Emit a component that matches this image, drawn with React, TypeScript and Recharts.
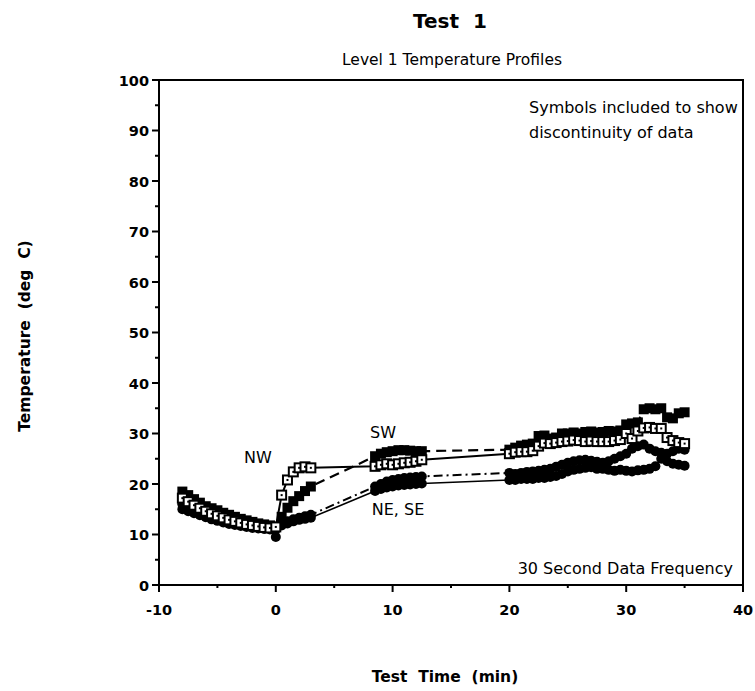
import React from 'react';
import { LineChart, Line, XAxis, YAxis, ReferenceArea } from 'recharts';

// 30 s sampling, three recording windows
const times = [
  -8, -7.5, -7, -6.5, -6, -5.5, -5, -4.5, -4, -3.5, -3, -2.5, -2, -1.5, -1, -0.5, 0, 0.5, 1, 1.5, 2, 2.5, 3,
  8.5, 9, 9.5, 10, 10.5, 11, 11.5, 12, 12.5,
  20, 20.5, 21, 21.5, 22, 22.5, 23, 23.5, 24, 24.5, 25, 25.5, 26, 26.5, 27, 27.5, 28, 28.5, 29, 29.5,
  30, 30.5, 31, 31.5, 32, 32.5, 33, 33.5, 34, 34.5, 35,
];

const nwTemp = [
  17.2, 16.5, 15.8, 15.2, 14.6, 14.1, 13.7, 13.3, 12.9, 12.6, 12.3, 12.0, 11.8, 11.6, 11.4, 11.3, 11.5, 17.8, 20.8, 22.4, 23.2, 23.4, 23.2,
  23.5, 23.8, 24.0, 23.8, 24.0, 24.2, 24.3, 24.5, 24.8,
  26.0, 26.3, 26.4, 26.4, 26.6, 27.5, 28.1, 28.0, 28.2, 28.4, 28.5, 28.7, 28.6, 28.4, 28.5, 28.4, 28.4, 28.4, 28.6, 28.8,
  30.0, 29.0, 30.5, 31.1, 31.2, 31.0, 31.0, 29.2, 28.6, 28.2, 28.0,
];

const swTemp = [
  18.5, 17.8, 17.0, 16.3, 15.6, 15.2, 14.8, 14.3, 13.9, 13.5, 13.1, 12.8, 12.5, 12.2, 12.0, 11.8, 11.5, 13.5, 15.3, 16.6, 17.6, 18.6, 19.5,
  25.5, 26.0, 26.3, 26.5, 26.7, 26.7, 26.6, 26.5, 26.5,
  26.8, 27.2, 27.6, 27.8, 28.0, 29.5, 29.6, 29.0, 29.2, 30.0, 30.0, 30.2, 30.0, 30.3, 30.4, 30.2, 30.3, 30.5, 30.4, 30.6,
  31.8, 32.0, 32.2, 34.8, 35.0, 34.8, 35.0, 33.2, 33.0, 34.0, 34.2,
];

const neTemp = [
  16.0, 15.5, 15.0, 14.5, 14.1, 13.7, 13.3, 13.0, 12.7, 12.4, 12.1, 11.9, 11.7, 11.5, 11.3, 11.2, 11.0, 12.0, 12.6, 13.0, 13.3, 13.6, 13.9,
  19.5, 20.0, 20.5, 20.8, 21.0, 21.2, 21.3, 21.4, 21.5,
  22.2, 22.0, 22.2, 22.4, 22.5, 22.6, 22.8, 23.0, 23.4, 23.8, 24.2, 24.5, 24.7, 24.8, 24.6, 24.4, 24.2, 24.5, 25.0, 25.5,
  26.0, 27.0, 27.5, 27.8, 27.0, 26.5, 26.2, 26.0, 26.5, 27.0, 26.8,
];

const seTemp = [
  15.0, 14.6, 14.2, 13.8, 13.4, 13.0, 12.7, 12.4, 12.1, 11.9, 11.7, 11.5, 11.3, 11.2, 11.1, 11.0, 9.5, 11.8, 12.2, 12.6, 12.9, 13.1, 13.3,
  18.6, 19.0, 19.3, 19.5, 19.7, 19.8, 19.9, 20.0, 20.1,
  20.8, 20.8, 21.0, 21.0, 21.0, 21.2, 21.2, 21.4, 21.6, 22.0, 22.5, 22.8, 23.0, 23.2, 23.3, 23.0, 23.0, 22.8, 22.6, 22.8,
  22.6, 22.5, 22.7, 22.8, 23.0, 23.5, 25.0, 24.5, 24.0, 23.8, 23.6,
];

const xTicks = [-10, -5, 0, 5, 10, 15, 20, 25, 30, 35, 40];
const yTicks = [0, 5, 10, 15, 20, 25, 30, 35, 40, 45, 50, 55, 60, 65, 70, 75, 80, 85, 90, 95, 100];

const data = times.map((t, i) => ({
  t,
  nw: nwTemp[i],
  sw: swTemp[i],
  ne: neTemp[i],
  se: seTemp[i],
}));

const FONT = '"DejaVu Sans", Verdana, sans-serif';

const XTick = (props: any) => {
  const { x, y, payload } = props;
  const major = payload.value % 10 === 0;
  return (
    <g>
      <line x1={x} x2={x} y1={y} y2={y + (major ? 7 : 3)} stroke="#000" strokeWidth={2} />
      {major && (
        <text x={x} y={y + 30} textAnchor="middle" fontFamily={FONT} fontSize={14.5} fontWeight="bold" fill="#000">
          {payload.value}
        </text>
      )}
    </g>
  );
};

const YTick = (props: any) => {
  const { x, y, payload } = props;
  const major = payload.value % 10 === 0;
  return (
    <g>
      <line x1={x} x2={x - (major ? 7 : 4)} y1={y} y2={y} stroke="#000" strokeWidth={2} />
      {major && (
        <text x={x - 10} y={y + 5.5} textAnchor="end" fontFamily={FONT} fontSize={14.5} fontWeight="bold" fill="#000">
          {payload.value}
        </text>
      )}
    </g>
  );
};

const OpenSquare = (props: any) => {
  const { cx, cy, index } = props;
  if (cx == null || cy == null) return <g key={`nw-${index}`} />;
  return (
    <g key={`nw-${index}`}>
      <rect x={cx - 4.5} y={cy - 4.5} width={9} height={9} fill="#fff" stroke="#000" strokeWidth={2} />
      <rect x={cx - 1} y={cy - 1} width={2} height={2} fill="#000" />
    </g>
  );
};

const FilledSquare = (props: any) => {
  const { cx, cy, index } = props;
  if (cx == null || cy == null) return <g key={`sw-${index}`} />;
  return <rect key={`sw-${index}`} x={cx - 5} y={cy - 5} width={10} height={10} fill="#000" />;
};

const makeCircle = (id: string) => (props: any) => {
  const { cx, cy, index } = props;
  if (cx == null || cy == null) return <g key={`${id}-${index}`} />;
  return <circle key={`${id}-${index}`} cx={cx} cy={cy} r={5} fill="#000" />;
};

export default function App() {
  return (
    <div style={{ position: 'absolute', left: 0, top: 0, width: 755, height: 691, background: '#fff' }}>
      <LineChart width={755} height={691} data={data} margin={{ top: 80, right: 12, bottom: 76, left: 99 }}>
        <XAxis
          type="number"
          dataKey="t"
          domain={[-10, 40]}
          ticks={xTicks}
          interval={0}
          height={30}
          tickSize={0}
          tickMargin={0}
          tick={<XTick />}
          axisLine={{ stroke: '#000', strokeWidth: 2 }}
        />
        <YAxis
          type="number"
          domain={[0, 100]}
          ticks={yTicks}
          interval={0}
          width={60}
          tickSize={0}
          tickMargin={0}
          tick={<YTick />}
          axisLine={{ stroke: '#000', strokeWidth: 2 }}
        />
        <ReferenceArea x1={-10} x2={40} y1={0} y2={100} fill="none" stroke="#000" strokeWidth={2} />
        <Line
          type="linear"
          dataKey="se"
          stroke="#000"
          strokeWidth={1.6}
          dot={makeCircle('se')}
          activeDot={false}
          isAnimationActive={false}
        />
        <Line
          type="linear"
          dataKey="ne"
          stroke="#000"
          strokeWidth={2}
          strokeDasharray="9 4 2 4"
          dot={makeCircle('ne')}
          activeDot={false}
          isAnimationActive={false}
        />
        <Line
          type="linear"
          dataKey="sw"
          stroke="#000"
          strokeWidth={2.2}
          strokeDasharray="10 6"
          dot={FilledSquare}
          activeDot={false}
          isAnimationActive={false}
        />
        <Line
          type="linear"
          dataKey="nw"
          stroke="#000"
          strokeWidth={2}
          dot={OpenSquare}
          activeDot={false}
          isAnimationActive={false}
        />
      </LineChart>
      <svg
        width={755}
        height={691}
        style={{ position: 'absolute', left: 0, top: 0, pointerEvents: 'none' }}
        fontFamily={FONT}
      >
        <text x={450} y={28} textAnchor="middle" fontSize={20} fontWeight="bold" style={{ whiteSpace: 'pre' }}>
          Test  1
        </text>
        <text x={452} y={65} textAnchor="middle" fontSize={15.5}>
          Level 1 Temperature Profiles
        </text>
        <text x={529} y={113} fontSize={16}>Symbols included to show</text>
        <text x={529} y={138} fontSize={16}>discontinuity of data</text>
        <text x={733} y={574} textAnchor="end" fontSize={16}>30 Second Data Frequency</text>
        <text x={258} y={463} textAnchor="middle" fontSize={16}>NW</text>
        <text x={383} y={438} textAnchor="middle" fontSize={16}>SW</text>
        <text x={398} y={515} textAnchor="middle" fontSize={16}>NE, SE</text>
        <text x={445} y={682} textAnchor="middle" fontSize={15.5} fontWeight="bold" style={{ whiteSpace: 'pre' }}>
          Test  Time  (min)
        </text>
        <text
          x={0}
          y={0}
          transform="translate(30 336) rotate(-90)"
          textAnchor="middle"
          fontSize={15.5}
          fontWeight="bold"
          style={{ whiteSpace: 'pre' }}
        >
          Temperature  (deg  C)
        </text>
      </svg>
    </div>
  );
}
